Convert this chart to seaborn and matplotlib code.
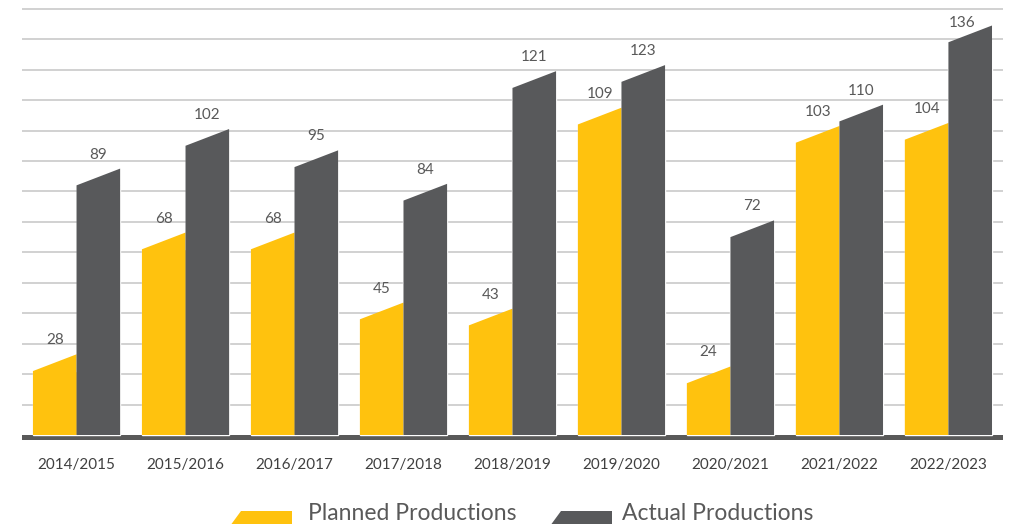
import matplotlib
matplotlib.use('Agg')
import matplotlib.pyplot as plt
import seaborn as sns
import pandas as pd
from matplotlib.patches import Polygon

# data
seasons = ['2014/2015', '2015/2016', '2016/2017', '2017/2018', '2018/2019',
           '2019/2020', '2020/2021', '2021/2022', '2022/2023']
planned = [28, 68, 68, 45, 43, 109, 24, 103, 104]
actual = [89, 102, 95, 84, 121, 123, 72, 110, 136]
series = ['Planned Productions', 'Actual Productions']

YELLOW = '#FFC20E'
GREY = '#58595B'
slant = 5.5   # drop of the left corner of each bar top
sink = 1.5    # the pointed corner sits a little under the value

df = pd.DataFrame({
    'season': seasons * 2,
    'value': planned + actual,
    'series': [series[0]] * len(seasons) + [series[1]] * len(seasons),
})
df['base'] = df['value'] - sink - slant

sns.set_style('white')
plt.rcParams['font.family'] = ['Lato', 'DejaVu Sans']

W, H = 1011, 524
fig = plt.figure(figsize=(W / 100, H / 100), dpi=100)
ax = fig.add_axes([0.0218, 0.16, 0.9702, 0.825])

sns.barplot(data=df, x='season', y='base', hue='series', order=seasons,
            hue_order=series, palette=[YELLOW, GREY], width=0.8,
            saturation=1, legend=False, ax=ax, zorder=3)

# slanted tops on every bar + value labels
for container, vals, col in zip(ax.containers, [planned, actual], [YELLOW, GREY]):
    for bar, v in zip(container, vals):
        x0 = bar.get_x()
        x1 = x0 + bar.get_width()
        top = v - sink
        ax.add_patch(Polygon([[x0, top - slant], [x1, top], [x1, 0], [x0, 0]],
                             closed=True, facecolor=col, edgecolor='none', zorder=3))
        # keep the label inside the plot for the tallest bar
        ax.text((x0 + x1) / 2 - (0.07 if top + 2.3 > 133 else 0),
                min(top + 2.3, 133), str(v), ha='center', va='bottom',
                fontsize=11, color='#595959', zorder=4)

ax.set_xlim(-0.5, len(seasons) - 0.5)
ax.set_ylim(-1.7, 140.3)
for y in range(10, 150, 10):
    ax.axhline(y, color='#C9C9C9', linewidth=1.2, zorder=1)
ax.axhspan(-1.7, 0, color='#595959', zorder=2, linewidth=0)

ax.set_yticks([])
ax.set_xlabel('')
ax.set_ylabel('')
ax.tick_params(axis='x', length=0, pad=13, labelsize=11, labelcolor='#404040')
sns.despine(ax=ax, left=True, bottom=True)

# legend drawn at the foot of the figure, slanted swatches
def fx(px):
    return px / W


def fy(py):
    return (H - py) / H


legend_items = [(series[0], YELLOW, 230, 308), (series[1], GREY, 550, 622)]
for label, col, sx, tx in legend_items:
    fig.patches.append(Polygon(
        [[fx(sx), fy(526)], [fx(sx + 11), fy(511)], [fx(sx + 62), fy(511)],
         [fx(sx + 62), fy(526)]],
        closed=True, facecolor=col, edgecolor='none',
        transform=fig.transFigure, figure=fig))
    fig.text(fx(tx), fy(520), label, ha='left', va='baseline',
             fontsize=16.5, color='#595959')

fig.savefig('out.png', dpi=100)
